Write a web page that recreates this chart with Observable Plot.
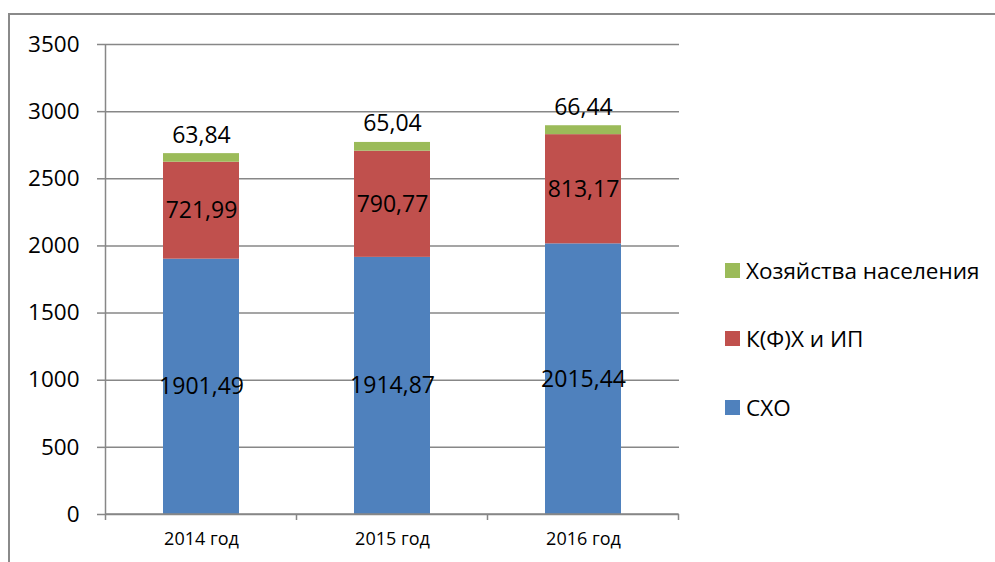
<!DOCTYPE html>
<html>
<head>
<meta charset="utf-8">
<script src="https://cdn.jsdelivr.net/npm/d3@7"></script>
<script src="https://cdn.jsdelivr.net/npm/@observablehq/plot@0.6"></script>
<style>
  html, body { margin: 0; padding: 0; background: #fff; }
  #wrap { position: relative; width: 995px; height: 562px; overflow: hidden; font-family: "Open Sans", sans-serif; }
  #frame { position: absolute; left: 8px; top: 13px; width: 995px; height: 560px; border-top: 2px solid #8a8a8a; border-left: 2px solid #8a8a8a; box-sizing: border-box; }
  #legend { position: absolute; left: 725px; top: 0; font-size: 22.5px; color: #000; }
  .item { position: absolute; white-space: nowrap; display: flex; align-items: center; }
  .sw { width: 15px; height: 15px; margin-right: 6px; flex: none; }
  #chart { position: absolute; left: 0; top: 0; }
</style>
</head>
<body>
<div id="wrap">
  <div id="frame"></div>
  <div id="chart"></div>
  <div id="legend"></div>
</div>
<script>
const years = ["2014 год", "2015 год", "2016 год"];
const seriesNames = ["СХО", "К(Ф)Х и ИП", "Хозяйства населения"];
const seriesColors = ["#4F81BD", "#C0504D", "#9BBB59"];
const shoValues = [1901.49, 1914.87, 2015.44];
const kfhValues = [721.99, 790.77, 813.17];
const householdValues = [63.84, 65.04, 66.44];
const yTicks = [0, 500, 1000, 1500, 2000, 2500, 3000, 3500];

const seriesValues = [shoValues, kfhValues, householdValues];
const data = [];
seriesNames.forEach((s, si) => years.forEach((y, yi) => data.push({year: y, series: s, value: seriesValues[si][yi]})));

const fmt = v => v.toFixed(2).replace(".", ",");
const topSeries = seriesNames[2];
const gray = "#878787";

const chart = Plot.plot({
  width: 995,
  height: 562,
  marginLeft: 105,
  marginRight: 316,
  marginTop: 44,
  marginBottom: 48,
  style: {fontFamily: "Open Sans, sans-serif", color: "#000", background: "transparent"},
  x: {domain: years, paddingInner: 0.6, paddingOuter: 0.3, label: null},
  y: {domain: [0, 3500], label: null},
  color: {domain: seriesNames, range: seriesColors},
  marks: [
    Plot.ruleY(yTicks, {stroke: gray, strokeWidth: 1.5}),
    Plot.axisY({ticks: yTicks, tickSize: 8, stroke: gray, strokeWidth: 1.5, fill: "#000", fontSize: 22.5, tickPadding: 18, tickFormat: d => String(d), label: null}),
    Plot.axisX({tickSize: 0, fontSize: 18, tickPadding: 18, fill: "#000", label: null}),
    Plot.barY(data, Plot.stackY({x: "year", y: "value", z: "series", fill: "series", order: seriesNames})),
    Plot.text(data, Plot.stackY({x: "year", y: "value", z: "series", order: seriesNames, text: d => d.series === topSeries ? "" : fmt(d.value), fontSize: 23, fill: "#000"})),
    Plot.text(data, Plot.stackY2({x: "year", y: "value", z: "series", order: seriesNames, text: d => d.series === topSeries ? fmt(d.value) : "", fontSize: 23, fill: "#000", lineAnchor: "bottom", dy: -11}))
  ]
});

document.getElementById("chart").appendChild(chart);

// axis lines and category boundary ticks using the plot's own scales
const xs = chart.scale("x");
const ysc = chart.scale("y");
const svg = d3.select(chart);
const y0 = ysc.apply(0), yTop = ysc.apply(3500);
const gap = (xs.step - xs.bandwidth) / 2;
const bounds = years.map(y => xs.apply(y) - gap);
bounds.push(xs.apply(years[years.length - 1]) + xs.bandwidth + gap);
const g = svg.append("g").attr("stroke", gray).attr("stroke-width", 1.5);
g.append("line").attr("x1", bounds[0]).attr("x2", bounds[0]).attr("y1", yTop).attr("y2", y0);
g.append("line").attr("x1", bounds[0]).attr("x2", bounds[bounds.length - 1]).attr("y1", y0).attr("y2", y0);
bounds.forEach(b => g.append("line").attr("x1", b).attr("x2", b).attr("y1", y0).attr("y2", y0 + 6));

// legend
const legend = document.getElementById("legend");
const legendRows = [2, 1, 0];
const rowTops = [271, 339, 408];
legendRows.forEach((si, i) => {
  const it = document.createElement("div");
  it.className = "item";
  it.style.top = (rowTops[i] - 16) + "px";
  const sw = document.createElement("span");
  sw.className = "sw";
  sw.style.background = seriesColors[si];
  const tx = document.createElement("span");
  tx.textContent = seriesNames[si];
  it.appendChild(sw); it.appendChild(tx);
  legend.appendChild(it);
});
</script>
</body>
</html>
